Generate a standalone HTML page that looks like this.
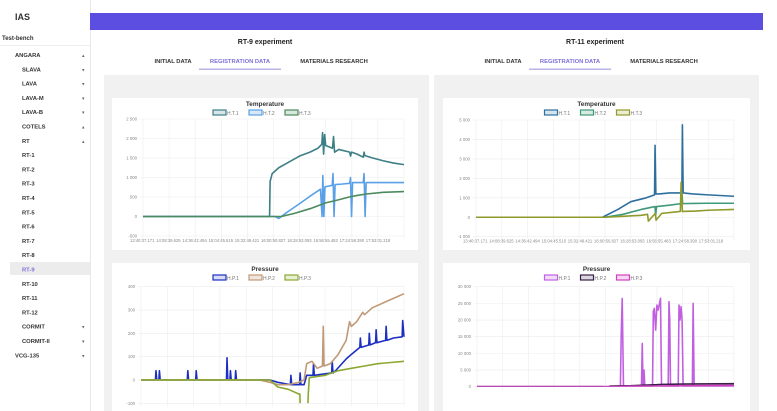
<!DOCTYPE html>
<html><head><meta charset="utf-8">
<style>
html,body{margin:0;padding:0;background:#fff;width:777px;height:411px;overflow:hidden;font-family:"Liberation Sans",sans-serif;}
svg{display:block}
</style></head>
<body>
<svg id="root" width="777" height="411" viewBox="0 0 777 411" xmlns="http://www.w3.org/2000/svg" font-family="Liberation Sans, sans-serif">
  <g>
    <rect x="0" y="0" width="90" height="411" fill="#fff"/>
    <line x1="90.5" y1="0" x2="90.5" y2="411" stroke="#e8e8e8"/>
    <text x="15" y="20" font-size="9" font-weight="bold" fill="#333">IAS</text>
    <text x="2" y="40" font-size="6" font-weight="bold" fill="#333">Test-bench</text>
    <line x1="0" y1="45.5" x2="90" y2="45.5" stroke="#eee"/>
    <rect x="10" y="262" width="80" height="13" fill="#ececec"/>
  </g>
  <g id="menu"></g>
  <rect x="90" y="13" width="673" height="17" fill="#5b4ee0"/>
  <g id="cols"></g>
</svg>
<script>
const NS="http://www.w3.org/2000/svg";
function mk(tag,attrs,parent){const e=document.createElementNS(NS,tag);for(const k in attrs)e.setAttribute(k,attrs[k]);(parent||root).appendChild(e);return e;}
const root=document.getElementById('root');

const menuLabels=["ANGARA","SLAVA","LAVA","LAVA-M","LAVA-B","COTELS","RT","RT-1","RT-2","RT-3","RT-4","RT-5","RT-6","RT-7","RT-8","RT-9","RT-10","RT-11","RT-12","CORMIT","CORMIT-II","VCG-135"];
const menuIndent=[0,1,1,1,1,2,3,4,4,4,4,4,4,4,4,4,4,4,4,2,2,0];
const menuArrow=["▴","▾","▾","▾","▾","▴","▴","","","","","","","","","","","","","▾","▾","▾"];
const menuG=document.getElementById('menu');
menuLabels.forEach((lab,i)=>{
  const y=57+i*14.3;
  const x=[15,22,22,22,22,27,31,35][menuIndent[i]];
  const t=mk('text',{x:x,y:y,'font-size':5.8,'font-weight':'bold',fill:lab==="RT-9"?'#7b70d8':'#333'},menuG);
  t.textContent=lab;
  
  
  if(menuArrow[i]){const a=mk('text',{x:82,y:y,'font-size':5,fill:'#666'},menuG);a.textContent=menuArrow[i];
    
    }
});

const xTickLabels=["13:40:37.171","14:08:39.625","14:36:42.494","15:04:45.515","15:32:48.421","16:00:50.827","16:28:53.093","16:56:55.483","17:24:58.390","17:53:01.218"];

const rt9TempTicks=[2500,2000,1500,1000,500,0,-500];
const rt9T1t=[0,48.5,48.7,49.5,52,56,60,64,67,68.5,68.8,69.2,69.6,70,72.6,73,73.4,75,79.2,79.5,79.9,82,84.4,84.7,85,88,92,96,100];
const rt9T1v=[0,0,900,1100,1250,1400,1550,1650,1750,1850,2150,1600,2100,1820,1750,2050,1650,1720,1650,1550,1650,1600,1520,1650,1560,1500,1430,1370,1330];
const rt9T2t=[0,50.6,52,55,60,64,68,68.6,68.9,69.3,69.7,72.5,72.8,73.2,73.6,76,79.2,79.5,79.9,80.3,84.4,84.7,85.1,85.5,90,100];
const rt9T2v=[0,0,-50,100,330,520,700,0,1050,0,760,800,1100,0,820,830,850,1000,0,870,870,1100,0,870,870,870];
const rt9T3t=[0,53,58,64,70,75,79,82,86,92,100];
const rt9T3v=[0,0,80,200,350,430,500,540,580,620,640];

const rt9PresTicks=[400,300,200,100,0,-100];
const rt9P1t=[0,5.5,5.7,6,6.8,7,7.3,17.6,17.8,18.1,20.8,21,21.3,32.5,32.7,33,33.8,34,34.3,35.8,36,36.3,49,52,56.8,57,57.3,60.3,60.5,60.8,62,63,65.4,65.6,65.9,72.5,72.7,73,74,78,80,83.2,83.4,83.7,86.6,86.8,87.1,89.2,89.4,89.7,93,93.2,93.5,96,99.3,99.5,100];
const rt9P1v=[0,0,40,0,0,40,0,0,40,0,0,40,0,0,95,0,0,40,0,0,40,0,0,-10,-20,20,-20,-20,30,-20,-20,20,20,70,20,30,80,30,40,90,110,140,180,140,150,200,150,160,215,160,170,230,170,180,185,255,185];
const rt9P2t=[0,45,49,52,56,60,62,63,65,67,69,69.3,69.6,72,75,78,79.3,80,82,84.3,85,88,92,96,100];
const rt9P2v=[0,0,-10,-20,-20,-10,0,70,80,50,60,230,60,70,110,170,250,230,250,290,280,310,330,350,370];
const rt9P3t=[0,49,52,56,60,60.4,60.6,63.4,63.6,64,70,75,80,85,90,95,100];
const rt9P3v=[0,0,-30,-40,-60,-60,-130,-130,-60,10,20,40,50,60,70,75,80];

const rt11TempTicks=[5000,4000,3000,2000,1000,0,-1000];
const rt11T1t=[0,49,55,60,66,69.2,69.4,69.7,71,75,79.8,80,80.3,84,90,100];
const rt11T1v=[0,0,400,800,1000,1150,3700,1200,1200,1250,1250,4750,1250,1200,1150,1080];
const rt11T2t=[0,50,57,64,69.4,69.6,70,75,79.5,79.8,80.1,84,90,100];
const rt11T2v=[0,0,150,400,550,100,550,620,700,1300,700,710,720,720];
const rt11T3t=[0,50,57,64,66.5,66.8,69.5,69.8,72,79.2,79.5,80,85,90,100];
const rt11T3v=[0,0,50,100,150,-200,200,-150,200,300,1800,300,320,360,400];

const rt11PresTicks=[30000,25000,20000,15000,10000,5000,0];
const rt11P1t=[0,55.8,56.1,56.5,57,57.3,64,64.3,64.6,65,65.3,65.6,68.3,68.6,69,69.5,70,70.5,71,71.4,71.8,72,74.4,74.7,75,75.3,78.3,78.6,79,79.4,79.8,80.2,83.8,84.1,84.5,100];
const rt11P1v=[0,0,15000,26500,0,0,0,13000,0,5000,0,0,0,22500,23500,17000,24500,23000,25000,26500,0,0,0,25500,20000,0,0,24500,20000,24000,20000,0,0,25000,0,0];
const rt11P2t=[0,49,50,52,60,70,72,80,100];
const rt11P2v=[0,0,-400,200,300,600,700,800,900];
const rt11P3t=[0,49,55,60,70,80,90,100];
const rt11P3v=[0,0,100,150,200,300,350,400];

const cols=document.getElementById('cols');
function column(cx0,title,charts){
  const g=mk('g',{},cols);
  
  
  const t=mk('text',{x:cx0+162,y:44,'font-size':7,'font-weight':'bold','text-anchor':'middle',fill:'#222'},g);t.textContent=title;
  
  
  const tabs=[["INITIAL DATA",cx0+70,'#333'],["REGISTRATION DATA",cx0+137,'#7b70d8'],["MATERIALS RESEARCH",cx0+231,'#333']];
  tabs.forEach(tb=>{const e=mk('text',{x:tb[1],y:63,'font-size':5.8,'font-weight':'bold','text-anchor':'middle',fill:tb[2]},g);e.textContent=tb[0];
    
    });
  const ul=mk('rect',{x:cx0+96,y:68.5,width:82,height:1.5,fill:'#b9b4e6'},g);
  
  
  const p=mk('rect',{x:cx0+1,y:75,width:325,height:336,fill:'#f1f1f1'},g);
  
  
  charts.forEach(c=>chart(g,c));
}
function chart(parent,c){
  const g=mk('g',{},parent);
  
  
  const card=mk('rect',{x:c.cx,y:c.cy,width:c.cw,height:c.ch,fill:'#fff'},g);
  
  
  const tt=mk('text',{x:c.cx+c.cw/2,y:c.cy+8,'font-size':6.4,'font-weight':'bold','text-anchor':'middle',fill:'#333'},g);tt.textContent=c.title;
  
  
  const lx0=c.cx+c.cw/2-52;
  c.series.forEach((s,i)=>{
    const lx=lx0+i*36;
    const r=mk('rect',{x:lx,y:c.cy+12,width:13,height:5,fill:s.fill,stroke:s.color,'stroke-width':1.2},g);
    
    
    const lt=mk('text',{x:lx+14,y:c.cy+17,'font-size':5,fill:'#777'},g);lt.textContent=s.label;
    
    
  });
  const vmax=c.ticks[0],vmin=c.ticks[c.ticks.length-1];
  const Y=v=>c.y0+(vmax-v)/(vmax-vmin)*(c.y1-c.y0);
  const X=t=>c.x0+t/100*(c.x1-c.x0);
  const clip='clip'+c.name;
  const cp=mk('clipPath',{id:clip},g);mk('rect',{x:c.x0-1,y:c.y0-2,width:c.x1-c.x0+2,height:Math.min(c.y1,c.cy+c.ch)-c.y0+2},cp);
  for(let i=0;i<=10;i++){const gx=c.x0+i*(c.x1-c.x0)/10;
    const l=mk('line',{x1:gx,y1:c.y0,x2:gx,y2:Math.min(c.y1+3,c.cy+c.ch),stroke:'#ececec','stroke-width':0.6},g);
    
    }
  c.ticks.forEach(v=>{
    const yy=Y(v); if(yy>c.cy+c.ch) return;
    const l=mk('line',{x1:c.x0-3,y1:yy,x2:c.x1,y2:yy,stroke:'#ececec','stroke-width':0.6},g);
    
    
    const tx=mk('text',{x:c.x0-6,y:yy+1.5,'font-size':4.3,'text-anchor':'end',fill:'#888'},g);
    tx.textContent=String(v).replace(/(\d)(?=(\d{3})+$)/,'$1 ');
    
    
  });
  if(c.xlabels){
    xTickLabels.forEach((lab,i)=>{
      const tx=mk('text',{x:c.x0-13+i*26.2,y:c.y1+6,'font-size':4.2,fill:'#888'},g);tx.textContent=lab;
      
      
    });
  }
  const sg=mk('g',{'clip-path':'url(#'+clip+')'},g);
  c.series.forEach(s=>{
    const d=s.t.map((t,i)=>(i?'L':'M')+X(t).toFixed(2)+' '+Y(s.v[i]).toFixed(2)).join(' ');
    const pth=mk('path',{d:d,fill:'none',stroke:s.color,'stroke-width':1.6,'stroke-linejoin':'round'},sg);
    
    
  });
}

column(103,"RT-9 experiment",[
  {name:'rt9-temperature-chart',title:'Temperature',cx:112,cy:98,cw:306,ch:152,x0:143,x1:404,y0:119,y1:236,ticks:rt9TempTicks,xlabels:true,
   series:[{label:'H.T.1',color:'#3d7f86',fill:'#d6e6e6',t:rt9T1t,v:rt9T1v},{label:'H.T.2',color:'#5aa0e8',fill:'#d8e8f8',t:rt9T2t,v:rt9T2v},{label:'H.T.3',color:'#4c8a5e',fill:'#d8e8dc',t:rt9T3t,v:rt9T3v}]},
  {name:'rt9-pressure-chart',title:'Pressure',cx:112,cy:263,cw:306,ch:148,x0:141,x1:404,y0:286.7,y1:403.3,ticks:rt9PresTicks,xlabels:false,
   series:[{label:'H.P.1',color:'#1c2fc0',fill:'#d8dcf4',t:rt9P1t,v:rt9P1v},{label:'H.P.2',color:'#c09a78',fill:'#f0e6dc',t:rt9P2t,v:rt9P2v},{label:'H.P.3',color:'#8aa832',fill:'#e8f0d4',t:rt9P3t,v:rt9P3v}]}
]);
column(433,"RT-11 experiment",[
  {name:'rt11-temperature-chart',title:'Temperature',cx:443,cy:98,cw:307,ch:152,x0:476,x1:734,y0:120,y1:236.7,ticks:rt11TempTicks,xlabels:true,
   series:[{label:'H.T.1',color:'#2e6f9e',fill:'#d6e4ee',t:rt11T1t,v:rt11T1v},{label:'H.T.2',color:'#3f9a78',fill:'#d6ece2',t:rt11T2t,v:rt11T2v},{label:'H.T.3',color:'#8f9a2a',fill:'#ecedd2',t:rt11T3t,v:rt11T3v}]},
  {name:'rt11-pressure-chart',title:'Pressure',cx:443,cy:263,cw:307,ch:148,x0:477,x1:734,y0:286.7,y1:386.7,ticks:rt11PresTicks,xlabels:false,
   series:[{label:'H.P.1',color:'#c060e0',fill:'#f0dcf8',t:rt11P1t,v:rt11P1v},{label:'H.P.2',color:'#3a2048',fill:'#dcd6e0',t:rt11P2t,v:rt11P2v},{label:'H.P.3',color:'#d040c0',fill:'#f6d8f0',t:rt11P3t,v:rt11P3v}]}
]);
</script>
</body></html>
